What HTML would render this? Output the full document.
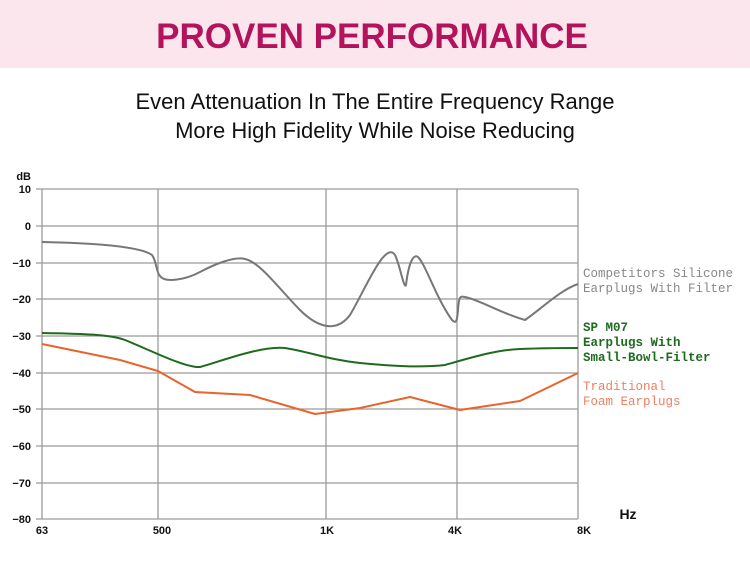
<!DOCTYPE html>
<html><head><style>
body{margin:0;width:750px;height:566px;background:#fff;overflow:hidden;font-family:"Liberation Sans",sans-serif}
</style></head><body>
<svg width="750" height="566" xmlns="http://www.w3.org/2000/svg">
<rect x="0" y="0" width="750" height="68" fill="#fbe6ee"/>
<text x="372" y="48" text-anchor="middle" font-family="Liberation Sans" font-weight="bold" font-size="35" fill="#b3135a">PROVEN PERFORMANCE</text>
<text x="375" y="109" text-anchor="middle" font-size="22" fill="#111">Even Attenuation In The Entire Frequency Range</text>
<text x="375" y="138" text-anchor="middle" font-size="22" fill="#111">More High Fidelity While Noise Reducing</text>
<g stroke="#9a9a9a" stroke-width="1.3">
<line x1="36" y1="189" x2="578" y2="189"/><line x1="36" y1="226" x2="578" y2="226"/>
<line x1="36" y1="263" x2="578" y2="263"/><line x1="36" y1="299" x2="578" y2="299"/>
<line x1="36" y1="336" x2="578" y2="336"/><line x1="36" y1="373" x2="578" y2="373"/>
<line x1="36" y1="409" x2="578" y2="409"/><line x1="36" y1="446" x2="578" y2="446"/>
<line x1="36" y1="483" x2="578" y2="483"/><line x1="36" y1="519" x2="578" y2="519"/>
<line x1="42" y1="189" x2="42" y2="519"/><line x1="158" y1="189" x2="158" y2="519"/>
<line x1="326" y1="189" x2="326" y2="519"/><line x1="457" y1="189" x2="457" y2="519"/>
<line x1="578" y1="189" x2="578" y2="519"/>
</g>
<g font-size="11" font-weight="bold" fill="#111" text-anchor="end">
<text x="31" y="180">dB</text>
<text x="31" y="193">10</text><text x="31" y="230">0</text><text x="31" y="267">−10</text>
<text x="31" y="303">−20</text><text x="31" y="340">−30</text><text x="31" y="377">−40</text>
<text x="31" y="413">−50</text><text x="31" y="450">−60</text><text x="31" y="487">−70</text>
<text x="31" y="523">−80</text>
</g>
<g font-size="11" font-weight="bold" fill="#111" text-anchor="middle">
<text x="42" y="534">63</text><text x="162" y="534">500</text><text x="327" y="534">1K</text>
<text x="455" y="534">4K</text><text x="584" y="534">8K</text>
<text x="628" y="519" font-size="14">Hz</text>
</g>
<g fill="none" stroke-width="2" stroke-linejoin="round">
<path stroke="#777" d="M42,242 C90,243 140,246 152,255 C157,262 156,272 160,276 C165,283 185,280 200,272 C215,264 235,256 245,259 C260,262 280,290 300,310 C315,325 335,335 350,315 C365,290 385,240 395,255 C400,265 404,290 406,285 C409,260 414,254 418,257 C426,265 436,298 452,320 C456,324 457,322 458,310 C459,296 460,296 465,297 C480,300 500,313 525,320 C540,310 560,290 578,284"/>
<path stroke="#1e6b1e" d="M42,333 C80,334 110,334 125,340 C150,350 185,368 200,367 C225,360 260,346 285,348 C310,352 330,360 360,363 C390,366 420,368 445,365 C470,358 495,350 520,349 C545,348 565,348 578,348"/>
<polyline stroke="#e8642c" points="42,344 120,360 158,371 195,392 250,395 315,414 360,408 410,397 460,410 520,401 578,373"/>
</g>
<g font-family="Liberation Mono" font-size="12.5">
<text x="583" y="277" fill="#888">Competitors Silicone</text>
<text x="583" y="292" fill="#888">Earplugs With Filter</text>
<text x="583" y="331" fill="#1e6b1e" font-weight="bold">SP M07</text>
<text x="583" y="346" fill="#1e6b1e" font-weight="bold">Earplugs With</text>
<text x="583" y="361" fill="#1e6b1e" font-weight="bold">Small-Bowl-Filter</text>
<text x="583" y="390" fill="#ee8060">Traditional</text>
<text x="583" y="405" fill="#ee8060">Foam Earplugs</text>
</g>
</svg>
</body></html>
